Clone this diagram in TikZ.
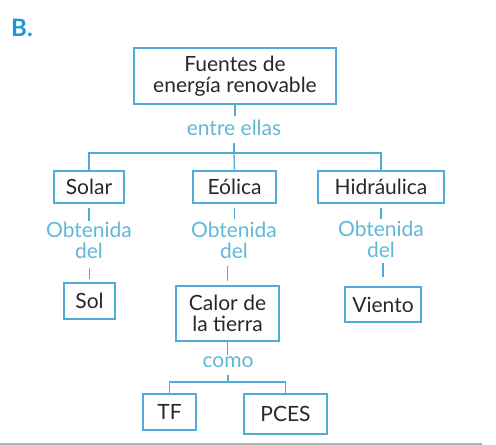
\documentclass[tikz,border=0pt]{standalone}
\usepackage{fontspec}
\setmainfont{Lato}
\usepackage{tikz}
\usetikzlibrary{positioning}
\definecolor{boxblue}{RGB}{80,172,212}
\definecolor{labelblue}{RGB}{96,184,216}
\definecolor{headblue}{RGB}{30,150,212}
\definecolor{inkgray}{RGB}{40,40,40}

\begin{document}
\begin{tikzpicture}[
    x=1pt, y=-1pt,
    conceptnode/.style={draw=boxblue, line width=1.3pt, rectangle,
        align=center, inner sep=2pt, text=inkgray,
        font=\fontsize{21}{21}\selectfont},
    linknode/.style={align=center, inner sep=1pt, text=labelblue,
        font=\fontsize{21}{21}\selectfont},
    link/.style={draw=boxblue, line width=1.3pt}
]
\useasboundingbox (0,0) rectangle (496,445);
\node[text=headblue, font=\fontsize{24}{24}\selectfont\bfseries] (head) at (22,28) {B.};

\node[conceptnode, minimum width=202pt, minimum height=56pt] (fuentes) at (235,76)
    {Fuentes de\\energía renovable};
\node[linknode] (entre) at (234,128) {entre ellas};

\node[conceptnode, minimum width=70pt, minimum height=32pt] (solar) at (89,187) {Solar};
\node[conceptnode, minimum width=83pt, minimum height=32pt] (eolica) at (234.5,187) {Eólica};
\node[conceptnode, minimum width=126pt, minimum height=32pt] (hidraulica) at (381,187) {Hidráulica};

\node[linknode] (obtsolar) at (89,240) {Obtenida\\del};
\node[linknode] (obteolica) at (234,240) {Obtenida\\del};
\node[linknode] (obthidra) at (381,239) {Obtenida\\del};

\node[conceptnode, minimum width=51pt, minimum height=36pt] (sol) at (89.5,301) {Sol};
\node[conceptnode, minimum width=103pt, minimum height=55pt] (calor) at (227.5,313.5)
    {Calor de\\la tierra};
\node[conceptnode, minimum width=76pt, minimum height=35pt] (viento) at (383,304.5) {Viento};

\node[linknode] (como) at (228,362) {como};
\node[conceptnode, minimum width=53pt, minimum height=36pt] (tf) at (169.5,412) {TF};
\node[conceptnode, minimum width=83pt, minimum height=40pt] (pces) at (285.5,414) {PCES};

\coordinate (barmid) at (234,153);
\coordinate (barlow) at (228,382);

% top level
\draw[link] (fuentes.south) -- ++(0,11);
\draw[link] (barmid) -- ++(0,-10);
\draw[link] (solar.north) |- (barmid) -| (hidraulica.north);
\draw[link] (barmid) -- (eolica.north);

% obtenida del
\draw[link] (solar.south) ++(0,4) -- ++(0,13);
\draw[link] (eolica.south) ++(0,4) -- ++(0,11);
\draw[link] (hidraulica.south) ++(0,4) -- ++(0,11);
\draw[link] (sol.north) ++(0,-3) -- ++(0,-11);
\draw[link] (calor.north) ++(0,-4) -- ++(0,-15);
\draw[link] (viento.north) ++(0,-9) -- ++(0,-14);

% como
\draw[link] (calor.south) -- ++(0,13);
\draw[link] (barlow) -- ++(0,-7);
\draw[link] (tf.north) |- (barlow) -| (pces.north);

\draw[gray!60, line width=2pt] (0,444) -- (482,444);
\end{tikzpicture}
\end{document}
